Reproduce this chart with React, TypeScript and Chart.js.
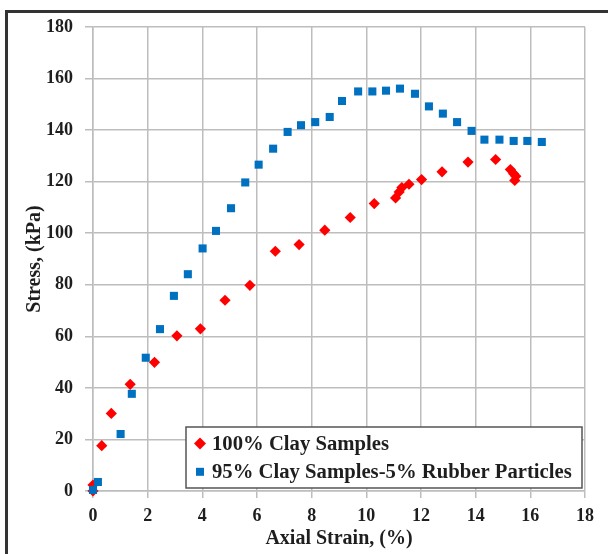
import { useEffect, useRef } from "react";
import { Chart, registerables } from "chart.js";

Chart.register(...registerables);

const seriesLabels = ["100% Clay Samples", "95% Clay Samples-5% Rubber Particles"];

const clayStrain = [0, 0, 0.32, 0.67, 1.36, 2.25, 3.07, 3.93, 4.83, 5.74, 6.67, 7.54, 8.48, 9.41, 10.29, 11.07, 11.2, 11.3, 11.56, 12.02, 12.77, 13.72, 14.73, 15.27, 15.39, 15.47, 15.43];
const clayStress = [0, 2.3, 17.6, 30.1, 41.4, 49.9, 60.2, 62.9, 74.0, 79.8, 93.0, 95.6, 101.2, 106.1, 111.5, 113.7, 116.0, 117.7, 119.0, 120.8, 123.8, 127.6, 128.6, 124.7, 123.1, 122.1, 120.5];

const rubberStrain = [0, 0.18, 1.01, 1.42, 1.93, 2.45, 2.96, 3.47, 4.01, 4.5, 5.05, 5.57, 6.06, 6.59, 7.12, 7.61, 8.13, 8.66, 9.11, 9.7, 10.22, 10.72, 11.23, 11.78, 12.29, 12.8, 13.32, 13.85, 14.32, 14.87, 15.39, 15.89, 16.42];
const rubberStress = [0.4, 3.5, 22.1, 37.7, 51.7, 62.8, 75.7, 84.1, 94.1, 100.9, 109.7, 119.7, 126.6, 132.8, 139.3, 141.9, 143.1, 145.1, 151.3, 155.0, 155.0, 155.3, 156.1, 154.1, 149.2, 146.4, 143.1, 139.7, 136.3, 136.3, 135.8, 135.8, 135.4];

const xRange = [0, 18];
const xStep = 2;
const yRange = [0, 180];
const yStep = 20;

const xTitle = "Axial Strain, (%)";
const yTitle = "Stress, (kPa)";

const FONT = "'Liberation Serif', 'Times New Roman', serif";
const TEXT = "#1e1e1e";
const GRID = "#bdbdbd";
const RED = "#ff0000";
const BLUE = "#0070c0";

const boxLegend = {
  id: "boxLegend",
  afterDraw(chart: any) {
    const ctx = chart.ctx;
    const x = 186, y = 427, w = 396, h = 61;
    ctx.save();
    ctx.fillStyle = "#ffffff";
    ctx.fillRect(x, y, w, h);
    ctx.strokeStyle = "#555555";
    ctx.lineWidth = 1.5;
    ctx.strokeRect(x, y, w, h);
    chart.data.datasets.forEach((ds: any, i: number) => {
      const cy = y + 16.5 + i * 28.3;
      const cx = x + 14;
      ctx.fillStyle = ds.backgroundColor;
      ctx.beginPath();
      if (ds.pointStyle === "rectRot") {
        const r = 6;
        ctx.moveTo(cx, cy - r);
        ctx.lineTo(cx + r, cy);
        ctx.lineTo(cx, cy + r);
        ctx.lineTo(cx - r, cy);
        ctx.closePath();
      } else {
        ctx.rect(cx - 4, cy - 4, 8, 8);
      }
      ctx.fill();
      ctx.fillStyle = TEXT;
      ctx.font = `bold 20.7px ${FONT}`;
      ctx.textBaseline = "middle";
      ctx.textAlign = "left";
      ctx.fillText(ds.label, x + 26, cy + 1);
    });
    ctx.restore();
  },
};

export default function App() {
  const ref = useRef<HTMLCanvasElement | null>(null);

  useEffect(() => {
    if (!ref.current) return;
    const chart = new Chart(ref.current, {
      type: "scatter",
      data: {
        datasets: [
          {
            label: seriesLabels[0],
            data: clayStrain.map((v, i) => ({ x: v, y: clayStress[i] })),
            backgroundColor: RED,
            borderColor: RED,
            borderWidth: 0,
            pointStyle: "rectRot",
            pointRadius: 5.6,
            order: 2,
            clip: false,
          },
          {
            label: seriesLabels[1],
            data: rubberStrain.map((v, i) => ({ x: v, y: rubberStress[i] })),
            backgroundColor: BLUE,
            borderColor: BLUE,
            borderWidth: 0,
            pointStyle: "rect",
            pointRadius: 5.7,
            order: 1,
            clip: false,
          },
        ],
      },
      options: {
        animation: false,
        responsive: false,
        devicePixelRatio: 1,
        layout: { padding: { left: 0, top: 27, right: 23, bottom: 0 } },
        plugins: {
          legend: { display: false },
          tooltip: { enabled: false },
        },
        scales: {
          x: {
            type: "linear",
            min: xRange[0],
            max: xRange[1],
            ticks: {
              stepSize: xStep,
              font: { family: FONT, size: 18, weight: "bold" },
              color: TEXT,
              padding: 8,
              maxRotation: 0,
            },
            grid: { color: GRID, lineWidth: 1.5, tickLength: 7 },
            border: { color: GRID, width: 1.5 },
            title: {
              display: true,
              text: xTitle,
              font: { family: FONT, size: 20, weight: "bold" },
              color: TEXT,
              padding: { top: 3, bottom: 3 },
            },
            afterFit: (s: any) => {
              s.height = 63;
            },
          },
          y: {
            type: "linear",
            min: yRange[0],
            max: yRange[1],
            ticks: {
              stepSize: yStep,
              font: { family: FONT, size: 18, weight: "bold" },
              color: TEXT,
              padding: 12,
            },
            grid: { color: GRID, lineWidth: 1.5, tickLength: 8 },
            border: { color: GRID, width: 1.5 },
            title: {
              display: true,
              text: yTitle,
              font: { family: FONT, size: 20, weight: "bold" },
              color: TEXT,
              padding: { top: 23, bottom: 23 },
            },
            afterFit: (s: any) => {
              s.width = 93;
            },
          },
        },
      },
      plugins: [boxLegend],
    } as any);
    return () => chart.destroy();
  }, []);

  return (
    <div
      style={{
        position: "fixed",
        left: 0,
        top: 0,
        width: 608,
        height: 554,
        overflow: "hidden",
        background: "#ffffff",
      }}
    >
      <div
        style={{
          position: "absolute",
          left: 5,
          top: 10,
          width: 700,
          height: 700,
          borderLeft: "3px solid #333",
          borderTop: "3px solid #333",
        }}
      />
      <canvas
        ref={ref}
        width={608}
        height={554}
        style={{ position: "absolute", left: 0, top: 0, width: 608, height: 554 }}
      />
    </div>
  );
}
